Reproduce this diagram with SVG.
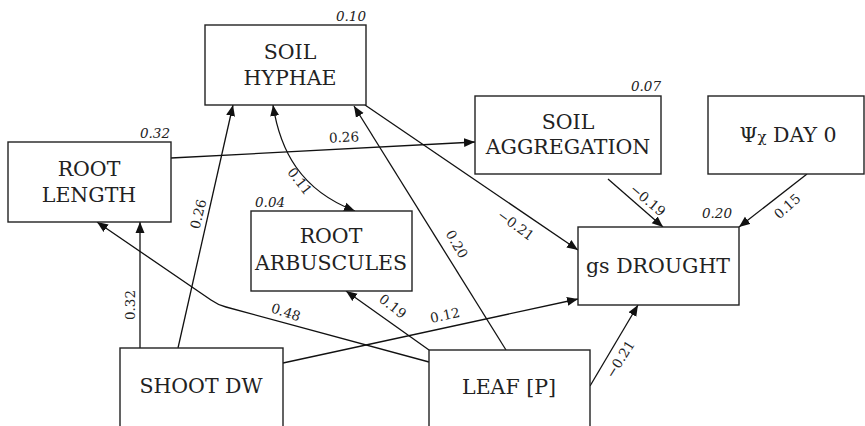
<svg xmlns="http://www.w3.org/2000/svg" width="865" height="426" viewBox="0 0 865 426">
<style>
.box{fill:#fff;stroke:#222;stroke-width:1.4}
.t{font-family:"DejaVu Serif",serif;font-size:20.5px;fill:#222;text-anchor:middle}
.r2{font-family:"DejaVu Serif",serif;font-size:13.5px;font-style:italic;fill:#222}
.c{font-family:"DejaVu Serif",serif;font-size:13.5px;fill:#222;text-anchor:middle}
.ln{fill:none;stroke:#111;stroke-width:1.3}
</style>
<defs>
<marker id="ah" markerUnits="userSpaceOnUse" markerWidth="12" markerHeight="10" refX="11" refY="5" orient="auto"><path d="M0,0.5 L11,5 L0,9.5 z" fill="#111"/></marker>
<marker id="ah2" markerUnits="userSpaceOnUse" markerWidth="12" markerHeight="10" refX="11" refY="5" orient="auto-start-reverse"><path d="M0,0.5 L11,5 L0,9.5 z" fill="#111"/></marker>
</defs>
<rect width="865" height="426" fill="#fff"/>
<g id="connectors">
<path class="ln" d="M171,158 L475,142" marker-end="url(#ah)"/>
<path class="ln" d="M178,348 L233,105" marker-end="url(#ah)"/>
<path class="ln" d="M140,348 L140,222" marker-end="url(#ah)"/>
<path class="ln" d="M429,362 L226,307 Q218,305 211,300 L97,222" marker-end="url(#ah)"/>
<path class="ln" d="M429,350 L346,291" marker-end="url(#ah)"/>
<path class="ln" d="M506,350 L354,106" marker-end="url(#ah)"/>
<path class="ln" d="M273,105 C280,150 300,190 355,211" marker-start="url(#ah2)" marker-end="url(#ah2)"/>
<path class="ln" d="M365,105 L578,250" marker-end="url(#ah)"/>
<path class="ln" d="M608,179 L663,227" marker-end="url(#ah)"/>
<path class="ln" d="M807,174 L739,227" marker-end="url(#ah)"/>
<path class="ln" d="M283,363 L578,299" marker-end="url(#ah)"/>
<path class="ln" d="M590,386 L638,305" marker-end="url(#ah)"/>
<text class="c" transform="translate(344,137) rotate(-3)" y="5">0.26</text>
<text class="c" transform="translate(198,214) rotate(-76)" y="5">0.26</text>
<text class="c" transform="translate(130,305) rotate(-90)" y="5">0.32</text>
<text class="c" transform="translate(286,312) rotate(18)" y="5">0.48</text>
<text class="c" transform="translate(393,306) rotate(38)" y="5">0.19</text>
<text class="c" transform="translate(445,315) rotate(-12)" y="5">0.12</text>
<text class="c" transform="translate(300,181) rotate(52)" y="5">0.11</text>
<text class="c" transform="translate(457,244) rotate(60)" y="5">0.20</text>
<text class="c" transform="translate(516,225) rotate(36)" y="5">−0.21</text>
<text class="c" transform="translate(648,200) rotate(40)" y="5">−0.19</text>
<text class="c" transform="translate(787,206) rotate(-42)" y="5">0.15</text>
<text class="c" transform="translate(620,359) rotate(-58)" y="5">−0.21</text>
</g>
<g id="soil-hyphae">
<rect class="box" x="205" y="25" width="161" height="80"/>
<text class="t" x="290" y="59">SOIL</text>
<text class="t" x="290" y="85">HYPHAE</text>
<text class="r2" x="366" y="21" text-anchor="end">0.10</text>
</g>
<g id="root-length">
<rect class="box" x="8" y="142" width="163" height="80"/>
<text class="t" x="89" y="176">ROOT</text>
<text class="t" x="89" y="202">LENGTH</text>
<text class="r2" x="170" y="138" text-anchor="end">0.32</text>
</g>
<g id="root-arbuscules">
<rect class="box" x="251" y="211" width="161" height="80"/>
<text class="t" x="331" y="243">ROOT</text>
<text class="t" x="331" y="270">ARBUSCULES</text>
<text class="r2" x="255" y="207">0.04</text>
</g>
<g id="soil-aggregation">
<rect class="box" x="475" y="96" width="186" height="78"/>
<text class="t" x="568" y="129">SOIL</text>
<text class="t" x="568" y="154">AGGREGATION</text>
<text class="r2" x="661" y="91" text-anchor="end">0.07</text>
</g>
<g id="psi-day0">
<rect class="box" x="708" y="96" width="156" height="78"/>
<text class="t" x="788" y="142">Ψ<tspan font-size="15">χ</tspan> DAY 0</text>
</g>
<g id="gs-drought">
<rect class="box" x="578" y="227" width="161" height="78"/>
<text class="t" x="658" y="273">gs DROUGHT</text>
<text class="r2" x="732" y="218" text-anchor="end">0.20</text>
</g>
<g id="shoot-dw">
<rect class="box" x="120" y="348" width="163" height="100"/>
<text class="t" x="201" y="393">SHOOT DW</text>
</g>
<g id="leaf-p">
<rect class="box" x="429" y="350" width="161" height="100"/>
<text class="t" x="509" y="394">LEAF [P]</text>
</g>
</svg>
